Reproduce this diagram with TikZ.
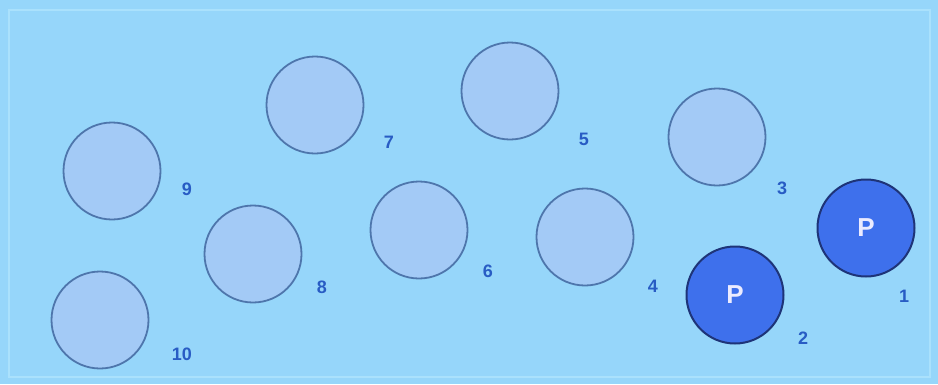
\documentclass[tikz,border=0pt]{standalone}
\usepackage{fontspec}
\setmainfont{Liberation Sans}
\definecolor{bgc}{RGB}{150,214,250}
\definecolor{framec}{RGB}{170,225,252}
\definecolor{holefill}{RGB}{163,202,246}
\definecolor{holeline}{RGB}{78,118,172}
\definecolor{pfill}{RGB}{62,112,236}
\definecolor{pline}{RGB}{30,52,120}
\definecolor{labc}{RGB}{40,92,196}
\tikzset{
  hole/.style={circle,draw=holeline,fill=holefill,line width=1.8pt,minimum size=97pt,inner sep=0pt},
  phole/.style={circle,draw=pline,fill=pfill,line width=2pt,minimum size=97pt,inner sep=0pt,
    text=white!92!blue,font=\fontsize{26}{26}\selectfont\bfseries},
  numlab/.style={text=labc,font=\fontsize{18}{18}\selectfont\bfseries,inner sep=0pt}
}
\begin{document}
\begin{tikzpicture}[x=1pt,y=-1pt]
\useasboundingbox (0,0) rectangle (938,384);
\fill[bgc] (0,0) rectangle (938,384);
\draw[framec,line width=2pt] (9,10) rectangle (930,377);
\node[phole] (h1) at (866,228) {P};
\node[phole] (h2) at (735,295) {P};
\node[hole] (h3) at (717,137) {};
\node[hole] (h4) at (585,237) {};
\node[hole] (h5) at (510,91) {};
\node[hole] (h6) at (419,230) {};
\node[hole] (h7) at (315,105) {};
\node[hole] (h8) at (253,254) {};
\node[hole] (h9) at (112,171) {};
\node[hole] (h10) at (100,320) {};
\node[numlab] (l1) at (904,296) {1};
\node[numlab] (l2) at (803,338) {2};
\node[numlab] (l3) at (782,188) {3};
\node[numlab] (l4) at (653,286) {4};
\node[numlab] (l5) at (584,139) {5};
\node[numlab] (l6) at (488,271) {6};
\node[numlab] (l7) at (389,142) {7};
\node[numlab] (l8) at (322,287) {8};
\node[numlab] (l9) at (187,189) {9};
\node[numlab] (l10) at (182,354) {10};
\end{tikzpicture}
\end{document}
